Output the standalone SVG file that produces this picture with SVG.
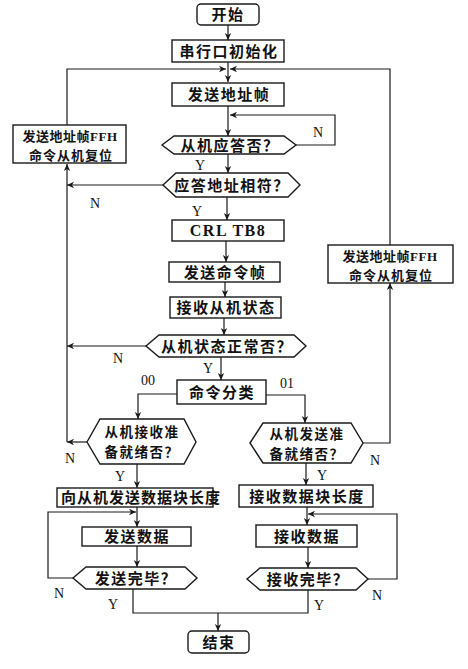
<svg xmlns="http://www.w3.org/2000/svg" width="468" height="669" viewBox="0 0 468 669">
<defs>
<marker id="ah" markerWidth="8" markerHeight="8" refX="7" refY="4" orient="auto" markerUnits="userSpaceOnUse">
<path d="M0,0.8 L7,4 L0,7.2 L2,4 Z" fill="#1a1a1a"/>
</marker>
<style>
.box{fill:#fff;stroke:#1a1a1a;stroke-width:1.4}
.t{font-family:"Noto Sans CJK SC","Noto Sans",sans-serif;font-size:15px;font-weight:700;fill:#111;text-anchor:middle;letter-spacing:1.5px}
.t2{font-size:13.5px}
.t3{font-size:13px;letter-spacing:1px}
.lat{font-family:"Liberation Serif",serif;font-weight:700}
.lb{font-family:"Liberation Serif",serif;font-size:14px;fill:#111;text-anchor:middle}
.c{fill:none;stroke:#1a1a1a;stroke-width:1.2}
.ca{fill:none;stroke:#1a1a1a;stroke-width:1.2;marker-end:url(#ah)}
</style>
</defs>
<rect width="468" height="669" fill="#fff"/>

<g id="connectors">
<path class="ca" d="M228,25 V40"/>
<path class="ca" d="M228,62 V82"/>
<path class="ca" d="M67,125 V69 H226"/>
<path class="ca" d="M390,245 V69 H230"/>
<path class="ca" d="M228,106 V136"/>
<path class="ca" d="M296,145 H335 V115 H230"/>
<path class="ca" d="M228,154 V173"/>
<path class="ca" d="M163,185 H67"/>
<path class="ca" d="M67,442 V164"/>
<path class="ca" d="M227,197 V220"/>
<path class="ca" d="M226,241 V262"/>
<path class="ca" d="M225,282 V297"/>
<path class="ca" d="M224,318 V335"/>
<path class="ca" d="M146,346 H67"/>
<path class="ca" d="M221,357 V380"/>
<path class="ca" d="M177,394 H138 V419"/>
<path class="ca" d="M266,395 H305 V423"/>
<path class="ca" d="M87,442 H67"/>
<path class="ca" d="M363,443 H390 V283"/>
<path class="ca" d="M137,464 V488"/>
<path class="ca" d="M306,463 V485"/>
<path class="ca" d="M137,507 V527"/>
<path class="ca" d="M73,578 H48 V512 H136"/>
<path class="ca" d="M137,546 V567"/>
<path class="ca" d="M307,507 V525"/>
<path class="ca" d="M368,579 H397 V514 H308"/>
<path class="ca" d="M308,547 V568"/>
<path class="c" d="M133,589 V613 H308 V590"/>
<path class="ca" d="M218,613 V631"/>
<text class="lb" x="318" y="137">N</text>
<text class="lb" x="200" y="170">Y</text>
<text class="lb" x="95" y="208">N</text>
<text class="lb" x="197" y="216">Y</text>
<text class="lb" x="118" y="363">N</text>
<text class="lb" x="208" y="373">Y</text>
<text class="lb" x="148" y="385">00</text>
<text class="lb" x="287" y="388">01</text>
<text class="lb" x="70" y="463">N</text>
<text class="lb" x="120" y="481">Y</text>
<text class="lb" x="375" y="465">N</text>
<text class="lb" x="322" y="480">Y</text>
<text class="lb" x="59" y="598">N</text>
<text class="lb" x="113" y="609">Y</text>
<text class="lb" x="377" y="600">N</text>
<text class="lb" x="319" y="610">Y</text>
</g>

<g id="start"><rect class="box" x="197" y="4" width="62" height="21" rx="4"/><text class="t" x="228" y="20">开始</text></g>
<g id="init"><rect class="box" x="172" y="40" width="112" height="22"/><text class="t" x="229" y="57">串行口初始化</text></g>
<g id="sendAddr"><rect class="box" x="172" y="83" width="112" height="23"/><text class="t" x="229" y="100">发送地址帧</text></g>
<g id="ack"><path class="box" d="M162,145 L174,136 H284 L296,145 L284,154 H174 Z"/><text class="t" x="230" y="151">从机应答否？</text></g>
<g id="resetL"><rect class="box" x="13" y="125" width="113" height="38"/><text class="t t3" x="70" y="141" style="letter-spacing:0.5px">发送地址帧<tspan class="lat">FFH</tspan></text><text class="t t3" x="71" y="160">命令从机复位</text></g>
<g id="addrMatch"><path class="box" d="M163,185 L176,173 H288 L300,185 L288,197 H176 Z"/><text class="t" x="232" y="191">应答地址相符？</text></g>
<g id="crl"><rect class="box" x="172" y="220" width="112" height="21"/><text class="t lat" x="228" y="236" style="font-size:16px">CRL TB8</text></g>
<g id="sendCmd"><rect class="box" x="169" y="262" width="111" height="20"/><text class="t" x="225" y="278">发送命令帧</text></g>
<g id="recvState"><rect class="box" x="170" y="297" width="111" height="21"/><text class="t" x="226" y="313">接收从机状态</text></g>
<g id="stateOk"><path class="box" d="M146,346 L159,335 H294 L306,346 L294,357 H159 Z"/><text class="t" x="227" y="352">从机状态正常否？</text></g>
<g id="resetR"><rect class="box" x="328" y="245" width="125" height="38"/><text class="t t3" x="390" y="261" style="letter-spacing:0.5px">发送地址帧<tspan class="lat">FFH</tspan></text><text class="t t3" x="391" y="280">命令从机复位</text></g>
<g id="classify"><rect class="box" x="177" y="380" width="89" height="24"/><text class="t" x="222" y="398">命令分类</text></g>
<g id="rxReady"><path class="box" d="M87,442 L100,419 H184 L196,442 L184,464 H100 Z"/><text class="t t2" x="142" y="437">从机接收准</text><text class="t t2" x="142" y="457">备就绪否？</text></g>
<g id="txReady"><path class="box" d="M250,443 L263,423 H351 L363,443 L351,463 H263 Z"/><text class="t t2" x="307" y="439">从机发送准</text><text class="t t2" x="307" y="459">备就绪否？</text></g>
<g id="sendLen"><rect class="box" x="57" y="488" width="156" height="19"/><text class="t" x="141" y="503" style="letter-spacing:1px">向从机发送数据块长度</text></g>
<g id="recvLen"><rect class="box" x="239" y="485" width="134" height="22"/><text class="t" x="307" y="502">接收数据块长度</text></g>
<g id="sendData"><rect class="box" x="82" y="527" width="109" height="19"/><text class="t" x="137" y="542">发送数据</text></g>
<g id="recvData"><rect class="box" x="256" y="525" width="101" height="22"/><text class="t" x="307" y="542">接收数据</text></g>
<g id="sendDone"><path class="box" d="M73,578 L86,567 H185 L197,578 L185,589 H86 Z"/><text class="t" x="136" y="584">发送完毕？</text></g>
<g id="recvDone"><path class="box" d="M247,579 L260,568 H356 L368,579 L356,590 H260 Z"/><text class="t" x="308" y="585">接收完毕？</text></g>
<g id="end"><rect class="box" x="188" y="631" width="61" height="22" rx="4"/><text class="t" x="219" y="648">结束</text></g>
</svg>
